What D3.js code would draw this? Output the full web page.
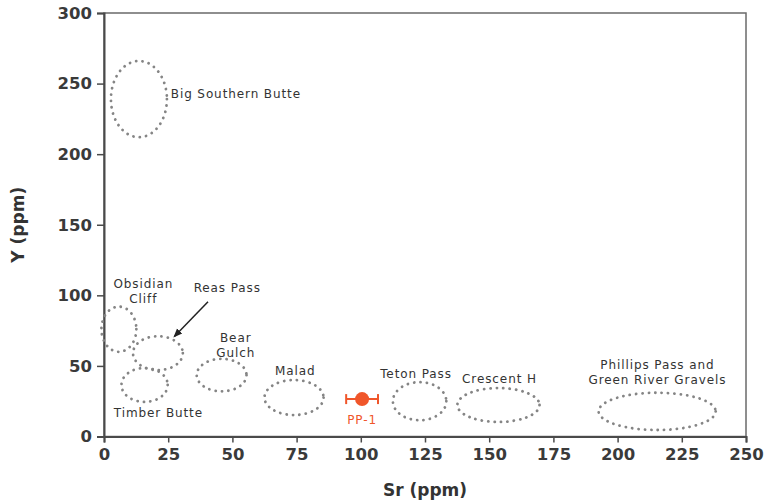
<!DOCTYPE html>
<html>
<head>
<meta charset="utf-8">
<script src="https://cdn.jsdelivr.net/npm/d3@7"></script>
<style>
  body { margin: 0; background: #fff; }
  svg { display: block; }
  text { font-family: "DejaVu Sans", sans-serif; }
</style>
</head>
<body>
<svg id="chart" width="770" height="504"></svg>
<script>
// Source groups: ellipse centre (Sr, Y) and half-widths in ppm
const sourceNames = ["Big Southern Butte", "Obsidian Cliff", "Reas Pass", "Timber Butte", "Bear Gulch",
                     "Malad", "Teton Pass", "Crescent H", "Phillips Pass and Green River Gravels"];
const sourceSr   = [13.6, 5.8, 21, 15.8, 45.8, 74, 122.9, 153.6, 215.4];
const sourceY    = [239, 76, 59, 36.5, 43.5, 27.6, 25, 22.3, 17.8];
const sourceSrHalf = [10.9, 6.8, 9.7, 9, 9.7, 11.5, 10.4, 16, 22.8];
const sourceYHalf  = [27, 16, 12, 12, 11.5, 12.4, 13.5, 12, 13.2];

// Label lines and anchor positions (Sr, Y) for each group
const labelLines = [["Big Southern Butte"], ["Obsidian", "Cliff"], ["Reas Pass"], ["Timber Butte"],
                    ["Bear", "Gulch"], ["Malad"], ["Teton Pass"], ["Crescent H"],
                    ["Phillips Pass and", "Green River Gravels"]];
const labelSr = [26, 15.3, 48, 21.2, 51.3, 74.5, 121.5, 154, 215.5];
const labelY  = [240, 105, 102.5, 14, 67, 43.5, 41.5, 38, 47.5];
const labelAnchor = ["start", "middle", "middle", "middle", "middle", "middle", "middle", "middle", "middle"];

// Artifact sample PP-1 with Sr uncertainty
const sampleName = "PP-1";
const sampleSr = 100.5;
const sampleY = 26.5;
const sampleSrErr = 6.2;

// Axis ticks
const xTicks = [0, 25, 50, 75, 100, 125, 150, 175, 200, 225, 250];
const yTicks = [0, 50, 100, 150, 200, 250, 300];

const svg = d3.select("#chart");
const plotLeft = 104, plotRight = 746, plotTop = 13, plotBottom = 436.5;

const x = d3.scaleLinear().domain([0, 250]).range([plotLeft, plotRight]);
const y = d3.scaleLinear().domain([0, 300]).range([plotBottom, plotTop]);

const axisColor = "#4a4a4a";

// Frame
svg.append("rect")
  .attr("x", plotLeft).attr("y", plotTop)
  .attr("width", plotRight - plotLeft).attr("height", plotBottom - plotTop)
  .attr("fill", "none").attr("stroke", "#6a6a6a").attr("stroke-width", 1.5);

const xAxis = svg.append("g")
  .attr("transform", `translate(0,${plotBottom})`)
  .call(d3.axisBottom(x).tickValues(xTicks).tickSize(6).tickPadding(6).tickFormat(d3.format("d")));
const yAxis = svg.append("g")
  .attr("transform", `translate(${plotLeft},0)`)
  .call(d3.axisLeft(y).tickValues(yTicks).tickSize(7).tickPadding(5).tickFormat(d3.format("d")));

[xAxis, yAxis].forEach(g => {
  g.select(".domain").attr("stroke", axisColor).attr("stroke-width", 2);
  g.selectAll(".tick line").attr("stroke", axisColor).attr("stroke-width", 1.5);
  g.selectAll(".tick text")
    .attr("fill", "#3a3a3a").attr("font-size", 16.5).attr("font-weight", "bold")
    .style("font-family", "DejaVu Sans, sans-serif");
});

// Axis titles
svg.append("text")
  .attr("x", x(125)).attr("y", 496)
  .attr("text-anchor", "middle")
  .attr("font-size", 17).attr("font-weight", "bold").attr("fill", "#333")
  .text("Sr (ppm)");
svg.append("text")
  .attr("transform", `translate(24,${y(150)}) rotate(-90)`)
  .attr("text-anchor", "middle")
  .attr("font-size", 17).attr("font-weight", "bold").attr("fill", "#333")
  .text("Y (ppm)");

// Source-group ellipses
svg.append("g").selectAll("ellipse")
  .data(sourceNames.map((n, i) => i))
  .join("ellipse")
  .attr("cx", i => x(sourceSr[i]))
  .attr("cy", i => y(sourceY[i]))
  .attr("rx", i => x(sourceSrHalf[i]) - x(0))
  .attr("ry", i => y(0) - y(sourceYHalf[i]))
  .attr("fill", "none")
  .attr("stroke", "#858585")
  .attr("stroke-width", 2.8)
  .attr("stroke-linecap", "round")
  .attr("stroke-dasharray", "0.1,6.3");

// Group labels
const labelG = svg.append("g");
labelLines.forEach((lines, i) => {
  const t = labelG.append("text")
    .attr("x", x(labelSr[i]))
    .attr("y", y(labelY[i]))
    .attr("text-anchor", labelAnchor[i])
    .attr("font-size", 12)
    .attr("letter-spacing", 0.9)
    .attr("fill", "#333");
  lines.forEach((ln, j) => {
    t.append("tspan").attr("x", x(labelSr[i])).attr("dy", j === 0 ? 0 : 15).text(ln);
  });
});

// Leader arrow for Reas Pass
svg.append("defs").append("marker")
  .attr("id", "arrowhead").attr("viewBox", "0 0 10 10")
  .attr("refX", 8).attr("refY", 5)
  .attr("markerWidth", 6).attr("markerHeight", 6)
  .attr("orient", "auto")
  .append("path").attr("d", "M0,1 L10,5 L0,9 Z").attr("fill", "#222");
svg.append("line")
  .attr("x1", x(40.5)).attr("y1", y(95.5))
  .attr("x2", x(27.5)).attr("y2", y(71))
  .attr("stroke", "#222").attr("stroke-width", 1.5)
  .attr("marker-end", "url(#arrowhead)");

// Sample PP-1 with error bar
const red = "#f0562a";
const sg = svg.append("g");
sg.append("line")
  .attr("x1", x(sampleSr - sampleSrErr)).attr("x2", x(sampleSr + sampleSrErr))
  .attr("y1", y(sampleY)).attr("y2", y(sampleY))
  .attr("stroke", red).attr("stroke-width", 2);
[sampleSr - sampleSrErr, sampleSr + sampleSrErr].forEach(v => {
  sg.append("line")
    .attr("x1", x(v)).attr("x2", x(v))
    .attr("y1", y(sampleY) - 5).attr("y2", y(sampleY) + 5)
    .attr("stroke", red).attr("stroke-width", 2);
});
sg.append("circle")
  .attr("cx", x(sampleSr)).attr("cy", y(sampleY)).attr("r", 7)
  .attr("fill", red);
sg.append("text")
  .attr("x", x(sampleSr)).attr("y", y(sampleY) + 25)
  .attr("text-anchor", "middle").attr("font-size", 12)
  .attr("letter-spacing", 0.9).attr("fill", red)
  .text(sampleName);
</script>
</body>
</html>
